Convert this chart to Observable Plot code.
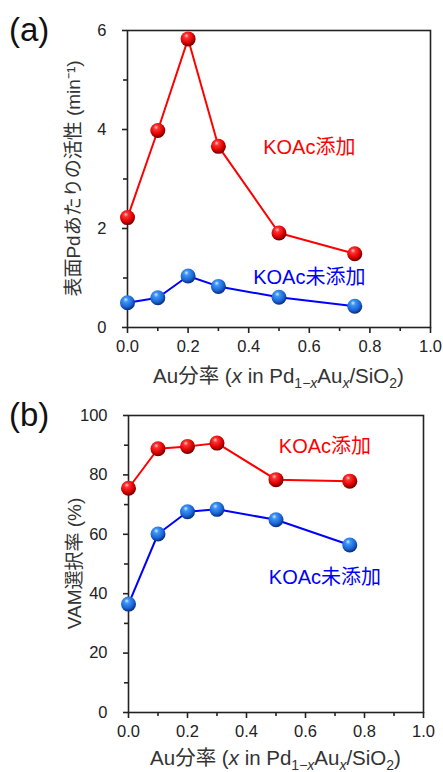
<!DOCTYPE html>
<html>
<head>
<meta charset="utf-8">
<script src="https://cdn.jsdelivr.net/npm/d3@7"></script>
<script src="https://cdn.jsdelivr.net/npm/@observablehq/plot@0.6"></script>
<style>
  body { margin: 0; background: #fff; }
  #chart { width: 443px; }
  #chart svg { display: block; }
  #chart svg g[aria-label$="tick label"] text {
    font-size: 16.5px !important;
    font-family: 'Liberation Sans', Arial, sans-serif !important;
    fill: #222;
  }
</style>
</head>
<body>
<div id="chart"></div>
<script>
// ---- Data ----
const auFraction = [0, 0.1, 0.2, 0.3, 0.5, 0.75];
const activityWithKOAc = [2.22, 3.98, 5.83, 3.66, 1.91, 1.49];
const activityWithoutKOAc = [0.50, 0.60, 1.04, 0.83, 0.61, 0.43];
const selectivityWithKOAc = [75.5, 88.8, 89.6, 90.7, 78.4, 77.9];
const selectivityWithoutKOAc = [36.5, 60.1, 67.6, 68.4, 64.9, 56.4];

const seriesNames = ["KOAc添加", "KOAc未添加"];
const xTicks = [0, 0.2, 0.4, 0.6, 0.8, 1.0];
const xMinorTicks = [0.1, 0.3, 0.5, 0.7, 0.9];
const yTicksA = [0, 2, 4, 6];
const yMinorTicksA = [1, 3, 5];
const yTicksB = [0, 20, 40, 60, 80, 100];
const yMinorTicksB = [10, 30, 50, 70, 90];
const panelLabels = ["(a)", "(b)"];
const yTitleA = "表面Pdあたりの活性 (min⁻¹)";
const yTitleB = "VAM選択率 (%)";

const FONT = "'Liberation Sans', Arial, 'Noto Sans CJK JP', sans-serif";

function rows(values, series) {
  return auFraction.map((x, i) => ({x, y: values[i], series}));
}

function addBallDefs(svg, id, stops) {
  const defs = d3.select(svg).insert("defs", ":first-child");
  const g = defs.append("radialGradient")
    .attr("id", id).attr("cx", "0.42").attr("cy", "0.36").attr("r", "0.62")
    .attr("fx", "0.38").attr("fy", "0.28");
  stops.forEach(([o, c]) => g.append("stop").attr("offset", o).attr("stop-color", c));
}

function panel(opts) {
  const {width, height, mt, mr, mb, ml, yDomain, yTicks, yMinor, red, blue,
         redLabelAt, blueLabelAt, yTitle, label, id, xTitleOffset} = opts;
  const redId = "redBall" + id, blueId = "blueBall" + id;
  const axisStyle = {stroke: "#222", strokeWidth: 1.6, fontSize: 16.5, fill: "#222", label: null};
  const svg = Plot.plot({
    width, height,
    marginTop: mt, marginRight: mr, marginBottom: mb, marginLeft: ml,
    style: {fontFamily: FONT, fontSize: "16px", color: "#222", background: "#fff", overflow: "visible"},
    x: {domain: [0, 1]},
    y: {domain: yDomain},
    marks: [
      Plot.axisX(xTicks, {...axisStyle, tickSize: 6, tickPadding: 7, tickFormat: d => d.toFixed(1)}),
      Plot.axisX(xMinorTicks, {...axisStyle, tickSize: 4, tickFormat: () => ""}),
      Plot.axisY(yTicks, {...axisStyle, tickSize: 5, tickPadding: 16, tickFormat: d => String(d)}),
      Plot.axisY(yMinor, {...axisStyle, tickSize: 4, tickFormat: () => ""}),
      Plot.frame({stroke: "#222", strokeWidth: 1.6}),
      Plot.line(red, {x: "x", y: "y", stroke: "#ff0000", strokeWidth: 2}),
      Plot.line(blue, {x: "x", y: "y", stroke: "#0000ff", strokeWidth: 2}),
      Plot.dot(red, {x: "x", y: "y", r: 7.5, fill: `url(#${redId})`, stroke: "none"}),
      Plot.dot(blue, {x: "x", y: "y", r: 7.5, fill: `url(#${blueId})`, stroke: "none"}),
      Plot.text([seriesNames[0]], {x: redLabelAt[0], y: redLabelAt[1], text: d => d, fill: "#ff0000", fontSize: 20}),
      Plot.text([seriesNames[1]], {x: blueLabelAt[0], y: blueLabelAt[1], text: d => d, fill: "#0000ff", fontSize: 20})
    ]
  });
  addBallDefs(svg, redId, [[0, "#ffc8c8"], [0.25, "#ff3030"], [0.7, "#dd0000"], [1, "#700000"]]);
  addBallDefs(svg, blueId, [[0, "#d0ecff"], [0.25, "#3f95f5"], [0.7, "#1a66d8"], [1, "#0a2f80"]]);

  const s = d3.select(svg);
  const cx = ml + (width - ml - mr) / 2;
  const cy = mt + (height - mt - mb) / 2;
  // y-axis title
  s.append("text")
    .attr("transform", `translate(${ml - 54},${cy}) rotate(-90)`)
    .attr("text-anchor", "middle").attr("dominant-baseline", "central")
    .attr("font-size", 19).attr("fill", "#333").attr("font-family", FONT)
    .text(yTitle);
  // x-axis title with italic & subscripts
  const t = s.append("text")
    .attr("x", cx).attr("y", height - mb + xTitleOffset)
    .attr("text-anchor", "middle").attr("font-size", 20.5).attr("fill", "#333").attr("font-family", FONT);
  const parts = [
    ["Au分率 (", false, false], ["x", true, false], [" in Pd", false, false],
    ["1−", false, true], ["x", true, true], ["Au", false, false], ["x", true, true],
    ["/SiO", false, false], ["2", false, true], [")", false, false]
  ];
  let shifted = false;
  parts.forEach(([txt, italic, sub]) => {
    const sp = t.append("tspan").text(txt);
    if (italic) sp.attr("font-style", "italic");
    if (sub) sp.attr("font-size", 14);
    if (sub && !shifted) { sp.attr("dy", 5); shifted = true; }
    else if (!sub && shifted) { sp.attr("dy", -5); shifted = false; }
  });
  // panel label
  s.append("text").attr("x", 9).attr("y", mt + 11)
    .attr("text-anchor", "start")
    .attr("font-size", 33).attr("fill", "#111").attr("font-family", FONT)
    .text(label);
  return svg;
}

const chart = document.getElementById("chart");
chart.append(panel({
  id: "A", width: 443, height: 390, mt: 30, mr: 13, mb: 63, ml: 127, xTitleOffset: 56,
  yDomain: [0, 6], yTicks: yTicksA, yMinor: yMinorTicksA,
  red: rows(activityWithKOAc, seriesNames[0]), blue: rows(activityWithoutKOAc, seriesNames[1]),
  redLabelAt: [0.60, 3.64], blueLabelAt: [0.60, 1.0],
  yTitle: yTitleA, label: panelLabels[0]
}));
chart.append(panel({
  id: "B", width: 443, height: 382, mt: 25, mr: 20, mb: 60, ml: 128, xTitleOffset: 53,
  yDomain: [0, 100], yTicks: yTicksB, yMinor: yMinorTicksB,
  red: rows(selectivityWithKOAc, seriesNames[0]), blue: rows(selectivityWithoutKOAc, seriesNames[1]),
  redLabelAt: [0.666, 89.6], blueLabelAt: [0.666, 45.4],
  yTitle: yTitleB, label: panelLabels[1]
}));
</script>
</body>
</html>
